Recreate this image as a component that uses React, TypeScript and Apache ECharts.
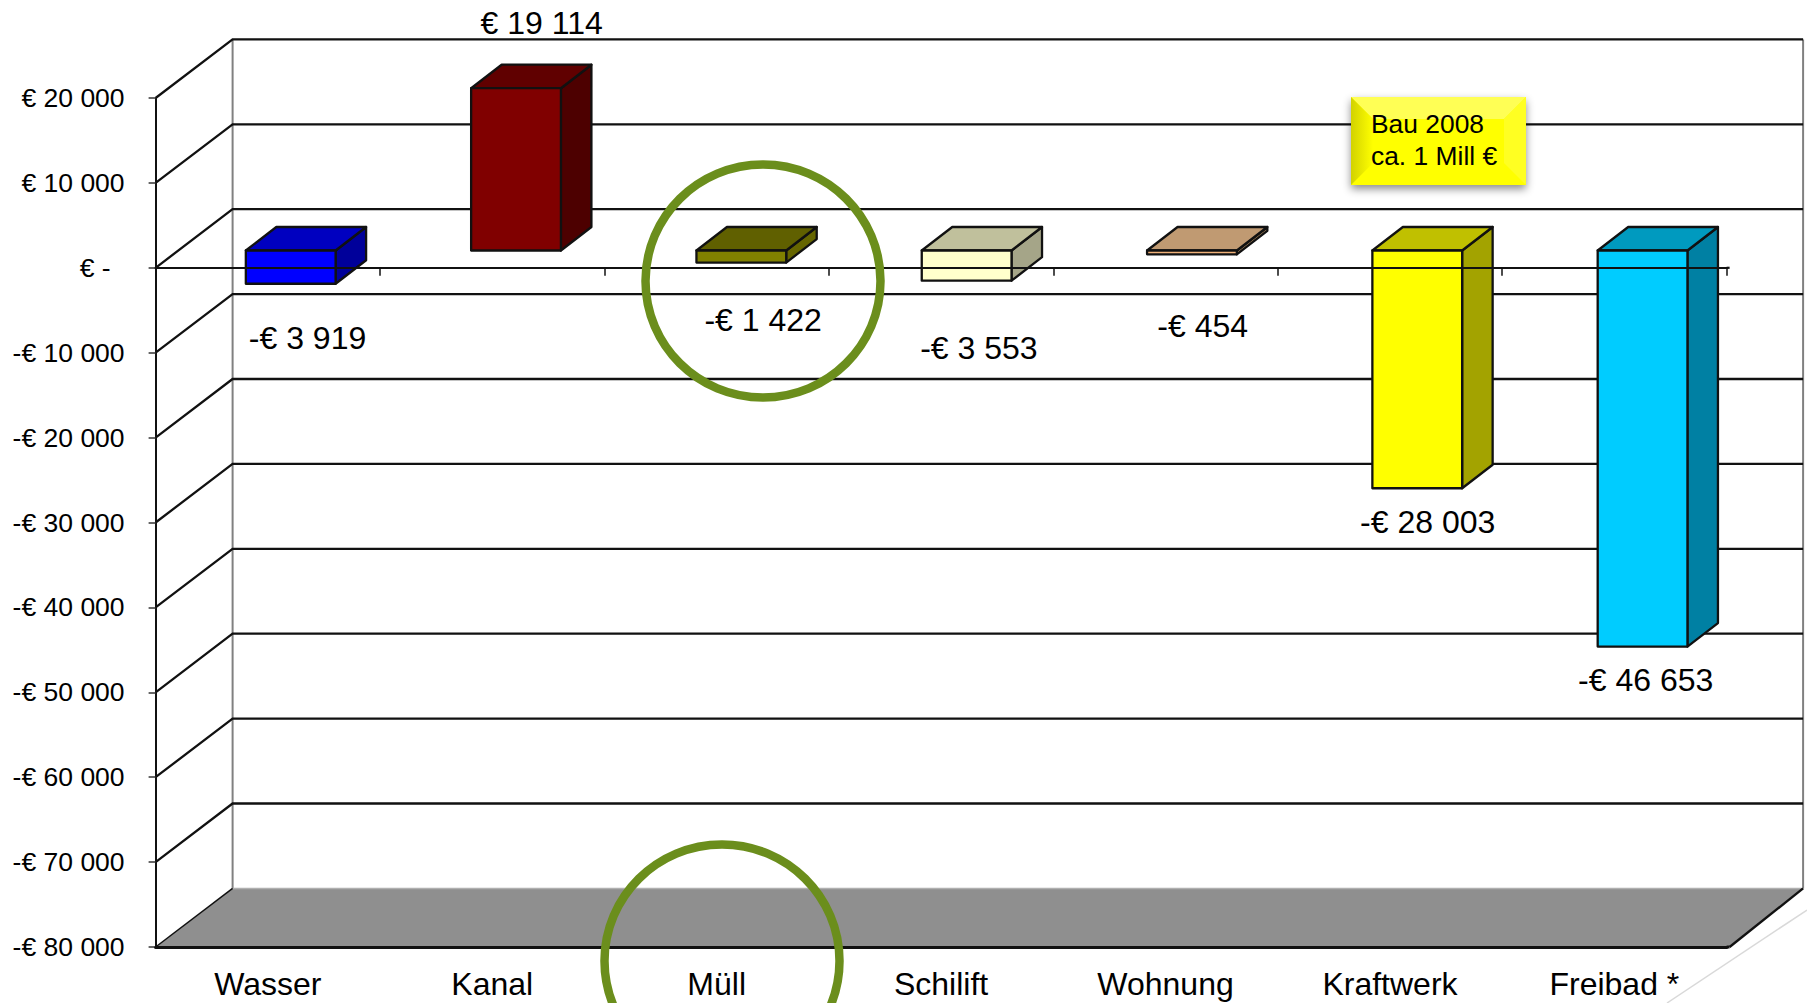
import React, { useEffect, useRef } from "react";
import * as echarts from "echarts";

const categories = ["Wasser", "Kanal", "Müll", "Schilift", "Wohnung", "Kraftwerk", "Freibad *"];
const barValues = [-3919, 19114, -1422, -3553, -454, -28003, -46653];
const barLabels = ["-€ 3 919", "€ 19 114", "-€ 1 422", "-€ 3 553", "-€ 454", "-€ 28 003", "-€ 46 653"];
const labelOffsets = [[39.7, 37], [48.9, -82.3], [45.5, 39.9], [36.3, 50.5], [35.2, 54.8], [35.2, 16], [28.3, 16]];
const frontColors = ["#0000ff", "#800000", "#808000", "#ffffcc", "#f0b27a", "#ffff00", "#00ccff"];
const topColors = ["#0000c0", "#600000", "#606000", "#c0c09c", "#c09a72", "#c0c000", "#009abf"];
const sideColors = ["#00009a", "#4d0000", "#666600", "#a5a588", "#a07f58", "#a3a300", "#0080a3"];
const gridValues = [20000, 10000, 0, -10000, -20000, -30000, -40000, -50000, -60000, -70000];
const noteLines = ["Bau 2008", "ca. 1 Mill €"];

const FONT = "'Liberation Sans', Arial, sans-serif";
const WALL_DX = 77;
const WALL_DX_RIGHT = 76.5;
const WALL_DY = -58.6;
const BAR_FRONT_DX = 22.9;
const BAR_FRONT_DY = -17.3;
const BAR_STEP_EXTRA = 0.88;
const BAR_DX = 30.5;
const BAR_DY = -23.5;
const AXIS_OVERHANG = 3;
const GREEN = "#6b8e1c";
const INK = "#111111";

const yLabel = (v: number) => {
  if (v === 0) return "{z|€ -}";
  const abs = Math.abs(v);
  const text = `€ ${Math.floor(abs / 1000)} 000`;
  return v < 0 ? `-${text}` : text;
};

export default function App() {
  const ref = useRef<HTMLDivElement>(null);

  useEffect(() => {
    const chart = echarts.init(ref.current!, null, { renderer: "svg" });
    const option: any = {
      animation: false,
      backgroundColor: "#ffffff",
      grid: { left: 155.6, right: 80.4, top: 98, bottom: 56 },
      xAxis: [
        {
          type: "category",
          position: "bottom",
          data: categories,
          axisLine: { onZero: false, lineStyle: { color: INK, width: 3 } },
          axisTick: { show: false },
          axisLabel: { fontFamily: FONT, fontSize: 32, color: "#000000", margin: 21, interval: 0 },
          z: 8,
        },
        {
          type: "category",
          position: "top",
          data: categories,
          axisLine: { onZero: true, lineStyle: { color: INK, width: 2.2 } },
          axisTick: { show: true, inside: true, length: 8, lineStyle: { color: INK, width: 1.5 } },
          axisLabel: { show: false },
          z: 8,
        },
      ],
      yAxis: {
        type: "value",
        min: -80000,
        max: 20000,
        interval: 10000,
        axisLine: { show: true, onZero: false, lineStyle: { color: INK, width: 2 } },
        axisTick: { show: true, length: 7, lineStyle: { color: "#333333", width: 1.5 } },
        splitLine: { show: false },
        axisLabel: {
          fontFamily: FONT,
          fontSize: 26.5,
          color: "#000000",
          margin: 31,
          formatter: yLabel,
          rich: { z: { fontFamily: FONT, fontSize: 26.5, color: "#000000", padding: [0, 14, 0, 0] } },
        },
        z: 7,
      },
      graphic: [
        { type: "ellipse", z: 20, shape: { cx: 763, cy: 281, rx: 117.5, ry: 116.5 }, style: { fill: "none", stroke: GREEN, lineWidth: 8.5 } },
        { type: "ellipse", z: 20, shape: { cx: 722, cy: 961, rx: 117.5, ry: 116.5 }, style: { fill: "none", stroke: GREEN, lineWidth: 8.5 } },
        { type: "line", z: 1, shape: { x1: 1807, y1: 910, x2: 1667, y2: 1003 }, style: { stroke: "#d9d9d9", lineWidth: 1.5 } },
        {
          type: "rect", z: 15, shape: { x: 1351, y: 97, width: 175, height: 88 },
          style: { fill: "#ffff00", shadowBlur: 8, shadowColor: "rgba(0,0,0,0.45)", shadowOffsetY: 4 },
        },
        {
          type: "polygon", z: 16, shape: { points: [[1351, 97], [1526, 97], [1504, 119], [1373, 119]] },
          style: { fill: "#ffff55" },
        },
        {
          type: "polygon", z: 16, shape: { points: [[1351, 97], [1373, 119], [1373, 163], [1351, 185]] },
          style: {
            fill: { type: "linear", x: 0, y: 0, x2: 1, y2: 0, colorStops: [{ offset: 0, color: "#d2d200" }, { offset: 1, color: "#ffff00" }] },
          },
        },
        {
          type: "polygon", z: 16, shape: { points: [[1526, 97], [1526, 185], [1504, 163], [1504, 119]] },
          style: { fill: "#ffff22" },
        },
        {
          type: "text", z: 17, x: 1371, y: 124,
          style: { text: noteLines[0], fontFamily: FONT, fontSize: 26.4, fill: "#000000", align: "left", verticalAlign: "middle" },
        },
        {
          type: "text", z: 17, x: 1371, y: 156,
          style: { text: noteLines[1], fontFamily: FONT, fontSize: 26.4, fill: "#000000", align: "left", verticalAlign: "middle" },
        },
      ],
      series: [
        {
          // floor and walls
          type: "custom",
          z: 1,
          silent: true,
          clip: false,
          data: [[0, -80000]],
          renderItem: (params: any, api: any) => {
            const cs = params.coordSys;
            const bottom = api.coord([0, -80000])[1];
            const zero = api.coord([0, 0])[1];
            const left = cs.x;
            const right = cs.x + cs.width + AXIS_OVERHANG;
            const backL = left + WALL_DX;
            const backR = cs.x + cs.width + WALL_DX_RIGHT;
            const backFloor = bottom + WALL_DY;
            const backTop = api.coord([0, 20000])[1] + WALL_DY;
            return {
              type: "group",
              children: [
                { type: "polygon", shape: { points: [[left, bottom], [right, bottom], [backR, backFloor], [backL, backFloor]] }, style: { fill: "#8f8f8f" } },
                { type: "line", shape: { x1: backL, y1: backTop, x2: backL, y2: backFloor }, style: { stroke: "#808080", lineWidth: 2 } },
                { type: "line", shape: { x1: backR, y1: backTop, x2: backR, y2: backFloor }, style: { stroke: "#808080", lineWidth: 2 } },
                { type: "line", shape: { x1: backL, y1: backFloor, x2: backR, y2: backFloor }, style: { stroke: "#b0b0b0", lineWidth: 1.5 } },
                { type: "line", shape: { x1: left, y1: bottom, x2: backL, y2: backFloor }, style: { stroke: INK, lineWidth: 1.5 } },
                { type: "line", shape: { x1: right, y1: bottom, x2: backR, y2: backFloor }, style: { stroke: INK, lineWidth: 2.4 } },
                { type: "line", shape: { x1: right - AXIS_OVERHANG, y1: bottom, x2: right, y2: bottom }, style: { stroke: INK, lineWidth: 3 } },
                { type: "line", shape: { x1: right - AXIS_OVERHANG, y1: zero, x2: right, y2: zero }, style: { stroke: INK, lineWidth: 2.2 } },
              ],
            };
          },
        },
        {
          // back wall and side wall gridlines
          type: "custom",
          z: 2,
          silent: true,
          clip: false,
          data: gridValues.map((v) => [0, v]),
          renderItem: (params: any, api: any) => {
            const cs = params.coordSys;
            const y = api.coord([0, api.value(1)])[1];
            return {
              type: "polyline",
              shape: {
                points: [
                  [cs.x, y],
                  [cs.x + WALL_DX, y + WALL_DY],
                  [cs.x + cs.width + WALL_DX_RIGHT, y + WALL_DY],
                ],
              },
              style: { fill: "none", stroke: INK, lineWidth: 2.3 },
            };
          },
        },
        {
          // 3D bars
          type: "custom",
          z: 4,
          silent: true,
          clip: false,
          data: barValues.map((v, i) => [i, v]),
          renderItem: (params: any, api: any) => {
            const i = api.value(0);
            const v = api.value(1);
            const base = api.coord([i, 0]);
            const end = api.coord([i, v]);
            const w = api.size([1, 0])[0] * 0.4;
            const x0 = base[0] - w / 2 + BAR_FRONT_DX + i * BAR_STEP_EXTRA;
            const x1 = x0 + w;
            const yA = Math.min(base[1], end[1]) + BAR_FRONT_DY;
            const yB = Math.max(base[1], end[1]) + BAR_FRONT_DY;
            const line = { stroke: INK, lineWidth: 2.3, lineJoin: "round" };
            return {
              type: "group",
              children: [
                {
                  type: "polygon",
                  shape: { points: [[x1, yA], [x1 + BAR_DX, yA + BAR_DY], [x1 + BAR_DX, yB + BAR_DY], [x1, yB]] },
                  style: { fill: sideColors[i], ...line },
                },
                {
                  type: "polygon",
                  shape: { points: [[x0, yA], [x0 + BAR_DX, yA + BAR_DY], [x1 + BAR_DX, yA + BAR_DY], [x1, yA]] },
                  style: { fill: topColors[i], ...line },
                },
                {
                  type: "polygon",
                  shape: { points: [[x0, yA], [x1, yA], [x1, yB], [x0, yB]] },
                  style: { fill: frontColors[i], ...line },
                },
              ],
            };
          },
        },
        {
          // value labels
          type: "custom",
          z: 12,
          silent: true,
          clip: false,
          data: barValues.map((v, i) => [i, v]),
          renderItem: (params: any, api: any) => {
            const i = api.value(0);
            const p = api.coord([i, api.value(1)]);
            return {
              type: "text",
              x: p[0] + labelOffsets[i][0] + i * 0.5,
              y: p[1] + labelOffsets[i][1],
              style: {
                text: barLabels[i],
                fontFamily: FONT,
                fontSize: 32,
                fill: "#000000",
                align: "center",
                verticalAlign: "middle",
              },
            };
          },
        },
      ],
    };
    chart.setOption(option);
    return () => chart.dispose();
  }, []);

  return <div ref={ref} style={{ position: "fixed", left: 0, top: 0, width: 1807, height: 1003 }} />;
}
